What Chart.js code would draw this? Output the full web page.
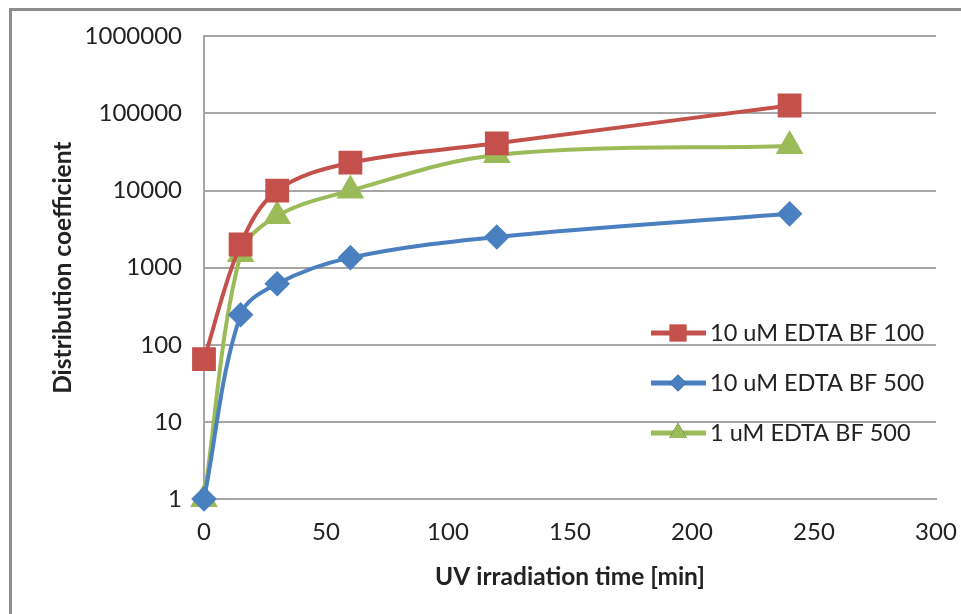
<!DOCTYPE html>
<html>
<head>
<meta charset="utf-8">
<script src="https://cdn.jsdelivr.net/npm/chart.js@4/dist/chart.umd.min.js"></script>
<style>
  html, body { margin: 0; padding: 0; background: #fff; overflow: hidden; }
  #frame { position: absolute; left: 9px; top: 8px; width: 1000px; height: 700px;
           border-left: 3px solid #8c8c8c; border-top: 3px solid #8c8c8c; }
  #wrap { position: absolute; left: 0; top: 0; width: 961px; height: 614px; }
</style>
</head>
<body>
<div id="frame"></div>
<div id="wrap"><canvas id="myChart" width="961" height="614"></canvas></div>
<script>
var times = [0, 15, 30, 60, 120, 240];
var seriesNames = ['10 uM EDTA BF 100', '10 uM EDTA BF 500', '1 uM EDTA BF 500'];
var edta10bf100 = [65, 2000, 10000, 23000, 41000, 127000];
var edta10bf500 = [1, 245, 620, 1350, 2500, 5000];
var edta1bf500 = [1, 1500, 4700, 10000, 29000, 38000];
var yTicks = [1, 10, 100, 1000, 10000, 100000, 1000000];
var xTicks = [0, 50, 100, 150, 200, 250, 300];

var FONT = 'Lato, "Open Sans", sans-serif';

function pts(vals) {
  return times.map(function (t, i) { return { x: t, y: vals[i] }; });
}

// legend drawn inside the plot, like the original
var insideLegend = {
  id: 'insideLegend',
  afterDraw: function (chart) {
    var c = chart.ctx, a = chart.chartArea;
    var x0 = a.left + 447, y0 = 333, gap = 50;
    c.save();
    c.font = '23.5px ' + FONT;
    c.textBaseline = 'middle';
    chart.data.datasets.forEach(function (ds, i) {
      var y = y0 + i * gap;
      c.strokeStyle = ds.borderColor;
      c.lineWidth = 5;
      c.beginPath();
      c.moveTo(x0, y);
      c.lineTo(x0 + 55, y);
      c.stroke();
      Chart.helpers.drawPoint(c, {
        pointStyle: ds.pointStyle, radius: ds.pointRadius * 0.85, borderWidth: 0
      }, x0 + 27, y);
      c.fillStyle = ds.backgroundColor;
      c.fill();
      c.fillStyle = '#222';
      c.fillText(ds.label, x0 + 59, y);
    });
    c.restore();
  }
};

var ctx = document.getElementById('myChart').getContext('2d');
var myChart = new Chart(ctx, {
  type: 'line',
  data: {
    datasets: [{
      label: seriesNames[0],
      data: pts(edta10bf100),
      borderColor: '#c4504c',
      backgroundColor: '#c4504c',
      pointStyle: 'rect',
      pointRadius: 14,
      borderWidth: 4,
      tension: 0.35,
      clip: false
    }, {
      label: seriesNames[1],
      data: pts(edta10bf500),
      borderColor: '#4a7fc0',
      backgroundColor: '#4a7fc0',
      pointStyle: 'rectRot',
      pointRadius: 10,
      borderWidth: 4,
      tension: 0.35,
      clip: false
    }, {
      label: seriesNames[2],
      data: pts(edta1bf500),
      borderColor: '#9bbb59',
      backgroundColor: '#9bbb59',
      pointStyle: 'triangle',
      pointRadius: 12,
      borderWidth: 4,
      tension: 0.35,
      clip: false
    }]
  },
  options: {
    responsive: false,
    maintainAspectRatio: false,
    animation: false,
    layout: { padding: { top: 36, right: 25, left: 0, bottom: 0 } },
    plugins: { legend: { display: false }, tooltip: { enabled: false } },
    scales: {
      x: {
        type: 'linear',
        min: 0, max: 300,
        afterBuildTicks: function (s) { s.ticks = xTicks.map(function (v) { return { value: v }; }); },
        afterFit: function (s) { s.height = 115; s.paddingRight = 0; s.paddingLeft = 0; },
        grid: { display: false },
        border: { display: true, color: '#a6a6a6', width: 2 },
        ticks: { color: '#222', font: { family: FONT, size: 24 }, padding: 11, maxRotation: 0 },
        title: { display: true, text: 'UV irradiation time [min]', color: '#222',
                 font: { family: FONT, size: 24.5, weight: 'bold' }, padding: { top: 0, bottom: 22 } }
      },
      y: {
        type: 'logarithmic',
        min: 1, max: 1000000,
        afterBuildTicks: function (s) { s.ticks = yTicks.map(function (v) { return { value: v }; }); },
        afterFit: function (s) { s.width = 204; },
        grid: { color: '#a6a6a6', lineWidth: 2, drawTicks: false },
        border: { display: true, color: '#a6a6a6', width: 2 },
        ticks: { color: '#222', font: { family: FONT, size: 24 }, padding: 22,
                 callback: function (v) { return String(v); } },
        title: { display: true, text: 'Distribution coefficient', color: '#222',
                 font: { family: FONT, size: 24.5, weight: 'bold' }, padding: { top: 48, bottom: 0 } }
      }
    }
  },
  plugins: [insideLegend]
});
</script>
</body>
</html>
